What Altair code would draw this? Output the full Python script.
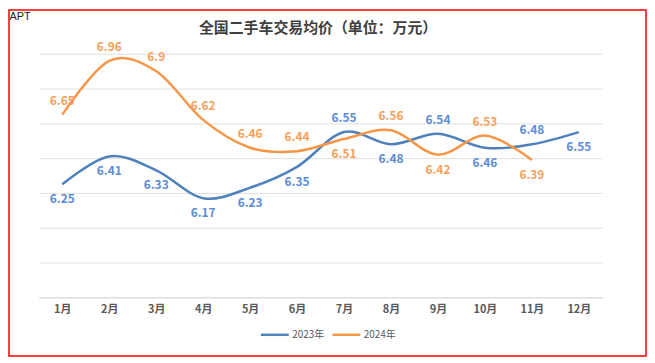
import altair as alt
import pandas as pd

months = ["1月", "2月", "3月", "4月", "5月", "6月", "7月", "8月", "9月", "10月", "11月", "12月"]
series = ["2023年", "2024年"]
v2023 = [6.25, 6.41, 6.33, 6.17, 6.23, 6.35, 6.55, 6.48, 6.54, 6.46, 6.48, 6.55]
v2024 = [6.65, 6.96, 6.9, 6.62, 6.46, 6.44, 6.51, 6.56, 6.42, 6.53, 6.39]
pos2023 = ["below"] * 6 + ["above", "below", "above", "below", "above", "below"]
pos2024 = ["above"] * 6 + ["below", "above", "below", "above", "below"]
y_ticks = [5.6, 5.8, 6.0, 6.2, 6.4, 6.6, 6.8, 7.0]
title_text = "全国二手车交易均价（单位：万元）"

line_colors = ["#4F81BD", "#F79646"]
label_colors = ["#5B8CD6", "#F7A05A"]
CJK = "Noto Sans CJK SC"

rows = []
for s, vals, poss in [(series[0], v2023, pos2023), (series[1], v2024, pos2024)]:
    for m, v, p in zip(months, vals, poss):
        rows.append({"month": m, "series": s, "value": v, "pos": p, "label": f"{v:g}"})
df = pd.DataFrame(rows)

x_enc = alt.X("month:N", sort=months,
              axis=alt.Axis(title=None, labelAngle=0, ticks=False, grid=False,
                            domainColor="#D9D9D9", labelFont=CJK, labelFontSize=11,
                            labelFontWeight="bold", labelColor="#595959", labelPadding=6))
y_enc = alt.Y("value:Q",
              scale=alt.Scale(domain=[5.6, 7.0], nice=False, zero=False),
              axis=alt.Axis(title=None, values=y_ticks, labels=False, ticks=False,
                            domain=False, grid=True, gridColor="#E0E0E0"))

base = alt.Chart(df)

lines = base.mark_line(interpolate="cardinal", strokeWidth=2.5).encode(
    x=x_enc, y=y_enc,
    color=alt.Color("series:N", scale=alt.Scale(domain=series, range=line_colors),
                    legend=alt.Legend(title=None, orient="none", legendX=222, legendY=267,
                                      direction="horizontal", symbolType="stroke",
                                      symbolSize=784, symbolStrokeWidth=2.5,
                                      labelFontSize=10, labelColor="#595959", labelFont=CJK,
                                      columnPadding=2, labelOffset=2, padding=0)),
)

def labels(pos, dy):
    return base.transform_filter(f"datum.pos == '{pos}'").mark_text(
        dy=dy, fontSize=12, fontWeight="bold", font=CJK
    ).encode(
        x=x_enc, y=y_enc, text="label:N",
        color=alt.Color("series:N", scale=alt.Scale(domain=series, range=label_colors), legend=None),
    )

one = pd.DataFrame({"a": [0]})
border = alt.Chart(one).mark_rect(fill=None, stroke="#FF0000", strokeWidth=1.5).encode(
    x=alt.value(-30), x2=alt.value(611), y=alt.value(-44), y2=alt.value(304)
)
apt = alt.Chart(one).mark_text(text="APT", align="left", baseline="alphabetic",
                               fontSize=11, font="Liberation Sans", color="#222222").encode(
    x=alt.value(-29.5), y=alt.value(-34)
)
title = alt.Chart(one).mark_text(text=title_text, align="center", baseline="middle",
                                 fontSize=15, font=CJK, fontWeight="bold",
                                 color="#404040").encode(
    x=alt.value(281), y=alt.value(-26)
)

chart = alt.layer(border, apt, title, lines, labels("above", -14), labels("below", 15)).resolve_scale(
    color="independent"
).properties(
    width=567, height=245,
    padding={"left": 31, "top": 45, "right": 45, "bottom": 60},
    autosize=alt.AutoSizeParams(type="none"),
).configure_view(stroke=None)

chart.save("out.html", embed_options={"renderer": "svg", "actions": False})
